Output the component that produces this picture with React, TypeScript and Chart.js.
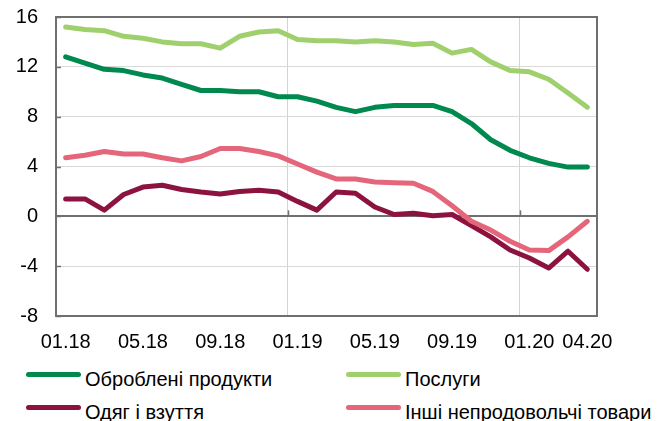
import React, { useEffect, useRef } from 'react';
import { Chart, registerables } from 'chart.js';

Chart.register(...registerables);

const months = [
  '01.18', '02.18', '03.18', '04.18', '05.18', '06.18', '07.18', '08.18', '09.18', '10.18', '11.18', '12.18',
  '01.19', '02.19', '03.19', '04.19', '05.19', '06.19', '07.19', '08.19', '09.19', '10.19', '11.19', '12.19',
  '01.20', '02.20', '03.20', '04.20',
];

const processedFoods = [12.8, 12.3, 11.8, 11.7, 11.35, 11.1, 10.6, 10.1, 10.1, 10.0, 10.0, 9.6, 9.6, 9.25, 8.75, 8.4, 8.75, 8.9, 8.9, 8.9, 8.4, 7.45, 6.15, 5.3, 4.7, 4.25, 3.95, 3.95];
const services = [15.2, 15.0, 14.9, 14.45, 14.3, 14.0, 13.85, 13.85, 13.5, 14.45, 14.8, 14.9, 14.2, 14.1, 14.1, 14.0, 14.1, 14.0, 13.8, 13.9, 13.1, 13.4, 12.4, 11.7, 11.6, 11.0, 9.9, 8.75];
const clothing = [1.4, 1.4, 0.5, 1.75, 2.35, 2.5, 2.15, 1.95, 1.8, 2.0, 2.1, 1.95, 1.2, 0.5, 1.95, 1.85, 0.75, 0.15, 0.25, 0.05, 0.15, -0.75, -1.65, -2.7, -3.35, -4.15, -2.8, -4.25];
const otherNonFood = [4.7, 4.9, 5.2, 5.0, 5.0, 4.7, 4.45, 4.8, 5.45, 5.45, 5.2, 4.85, 4.2, 3.55, 3.0, 3.0, 2.75, 2.7, 2.65, 2.0, 0.85, -0.4, -1.1, -2.0, -2.7, -2.75, -1.65, -0.4];

const seriesNames = ['Оброблені продукти', 'Послуги', 'Одяг і взуття', 'Інші непродовольчі товари'];
const seriesColors = ['#00894F', '#A0CF6E', '#8C1340', '#E5667A'];

const yMin = -8;
const yMax = 16;
const yStep = 4;
const shownLabelIdx = [0, 4, 8, 12, 16, 20, 24, 27];
const yearGridIdx = [12, 24];

const FONT = "'Liberation Sans', Arial, sans-serif";
const AXIS_DARK = '#6f6f6f';

const framePlugin = {
  id: 'frame',
  beforeDatasetsDraw(chart: any) {
    const { ctx, chartArea } = chart;
    const { left, right, top, bottom } = chartArea;
    const yScale = chart.scales.y;
    const xScale = chart.scales.x;
    const zeroY = yScale.getPixelForValue(0);
    ctx.save();
    ctx.strokeStyle = AXIS_DARK;
    ctx.lineWidth = 2;
    ctx.strokeRect(left, top, right - left, bottom - top);
    ctx.lineWidth = 1.5;
    const half = (xScale.getPixelForTick(1) - xScale.getPixelForTick(0)) / 2;
    yearGridIdx.forEach((i) => {
      const x = Math.round(xScale.getPixelForTick(i) - half) + 0.5;
      ctx.beginPath();
      ctx.moveTo(x, zeroY - 6);
      ctx.lineTo(x, zeroY);
      ctx.stroke();
    });
    for (let v = yMin; v <= yMax; v += yStep) {
      const y = Math.round(yScale.getPixelForValue(v)) + 0.5;
      ctx.beginPath();
      ctx.moveTo(left, y);
      ctx.lineTo(left + 5, y);
      ctx.stroke();
    }
    ctx.restore();
  },
};

function LegendItem({ left, top, color, text }: { left: number; top: number; color: string; text: string }) {
  return (
    <div style={{ position: 'absolute', left, top, height: 20, whiteSpace: 'nowrap' }}>
      <div
        style={{
          position: 'absolute',
          left: 0,
          top: 3,
          width: 55,
          height: 5,
          borderRadius: 3,
          background: color,
        }}
      />
      <div
        style={{
          position: 'absolute',
          left: 59,
          top: 0,
          font: `20px ${FONT}`,
          lineHeight: '20px',
          color: '#000',
        }}
      >
        {text}
      </div>
    </div>
  );
}

export default function App() {
  const canvasRef = useRef<HTMLCanvasElement | null>(null);

  useEffect(() => {
    const canvas = canvasRef.current;
    if (!canvas) return;
    const values = [processedFoods, services, clothing, otherNonFood];
    const chart = new Chart(canvas, {
      type: 'line',
      data: {
        labels: months,
        datasets: values.map((data, i) => ({
          label: seriesNames[i],
          data,
          borderColor: seriesColors[i],
          backgroundColor: seriesColors[i],
          borderWidth: 5,
          pointRadius: 0,
          tension: 0,
          borderJoinStyle: 'round',
          borderCapStyle: 'round',
          fill: false,
          order: 4 - i,
        })),
      },
      options: {
        animation: false,
        responsive: false,
        maintainAspectRatio: false,
        devicePixelRatio: 1,
        layout: { padding: { top: 17, right: 67, bottom: 0, left: 0 } },
        plugins: {
          legend: { display: false },
          tooltip: { enabled: false },
          title: { display: false },
        },
        scales: {
          x: {
            type: 'category',
            offset: true,
            border: { display: false },
            grid: {
              offset: true,
              drawTicks: false,
              lineWidth: 1,
              color: (ctx: any) => (yearGridIdx.includes(ctx.index) ? '#d3d3d3' : 'rgba(0,0,0,0)'),
            },
            ticks: {
              autoSkip: false,
              maxRotation: 0,
              minRotation: 0,
              padding: 14,
              color: '#000',
              font: { family: FONT, size: 20 },
              callback: (_v: any, i: number) => (shownLabelIdx.includes(i) ? months[i] : ''),
            },
            afterFit: (scale: any) => {
              scale.height = 44;
            },
          },
          y: {
            min: yMin,
            max: yMax,
            border: { display: false },
            grid: {
              drawTicks: false,
              lineWidth: (ctx: any) => (ctx.tick && ctx.tick.value === 0 ? 2 : 1),
              color: (ctx: any) => (ctx.tick && ctx.tick.value === 0 ? AXIS_DARK : '#d9d9d9'),
            },
            ticks: {
              stepSize: yStep,
              padding: 18,
              color: '#000',
              font: { family: FONT, size: 20 },
            },
            afterFit: (scale: any) => {
              scale.width = 56;
              scale.paddingTop = 0;
              scale.paddingBottom = 0;
            },
          },
        },
      },
      plugins: [framePlugin],
    } as any);
    return () => chart.destroy();
  }, []);

  return (
    <div
      style={{
        position: 'fixed',
        left: 0,
        top: 0,
        width: 664,
        height: 421,
        background: '#fff',
        overflow: 'hidden',
      }}
    >
      <canvas ref={canvasRef} width={664} height={360} style={{ position: 'absolute', left: 0, top: 0 }} />
      <LegendItem left={26} top={369} color={seriesColors[0]} text={seriesNames[0]} />
      <LegendItem left={346} top={369} color={seriesColors[1]} text={seriesNames[1]} />
      <LegendItem left={26} top={402} color={seriesColors[2]} text={seriesNames[2]} />
      <LegendItem left={346} top={402} color={seriesColors[3]} text={seriesNames[3]} />
    </div>
  );
}
